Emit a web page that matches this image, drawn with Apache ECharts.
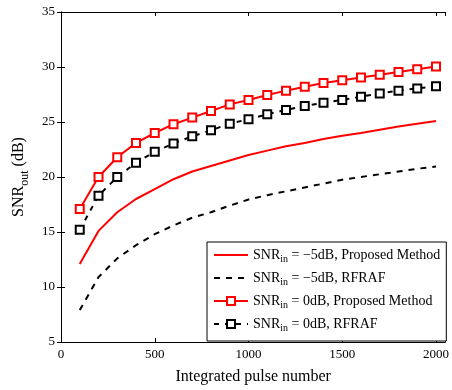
<!DOCTYPE html>
<html>
<head>
<meta charset="utf-8">
<script src="https://cdn.jsdelivr.net/npm/echarts@6/dist/echarts.min.js"></script>
<style>
html,body{margin:0;padding:0;background:#fff;}
#chart{width:452px;height:390px;}
</style>
</head>
<body>
<div id="chart"></div>
<script>
// Integrated pulse numbers (x)
var pulses = [100, 200, 300, 400, 500, 600, 700, 800, 900, 1000, 1100, 1200, 1300, 1400, 1500, 1600, 1700, 1800, 1900, 2000];
// SNR_in = -5dB, Proposed Method
var propM5 = [12.1, 15.1, 16.8, 18.0, 18.9, 19.8, 20.5, 21.0, 21.5, 22.0, 22.4, 22.8, 23.1, 23.45, 23.75, 24.0, 24.3, 24.6, 24.85, 25.1];
// SNR_in = -5dB, RFRAF
var rfrafM5 = [7.9, 10.9, 12.6, 13.8, 14.8, 15.6, 16.3, 16.8, 17.4, 17.95, 18.35, 18.7, 19.05, 19.4, 19.75, 20.0, 20.25, 20.5, 20.75, 20.95];
// SNR_in = 0dB, Proposed Method
var prop0 = [17.1, 20.0, 21.8, 23.1, 24.0, 24.8, 25.4, 26.0, 26.6, 27.0, 27.45, 27.85, 28.2, 28.55, 28.8, 29.05, 29.3, 29.55, 29.8, 30.05];
// SNR_in = 0dB, RFRAF
var rfraf0 = [15.2, 18.3, 20.0, 21.3, 22.3, 23.05, 23.7, 24.25, 24.85, 25.25, 25.7, 26.1, 26.45, 26.75, 27.0, 27.3, 27.6, 27.85, 28.05, 28.25];

var seriesNames = ['s1', 's2', 's3', 's4'];
var legendSuffix = [' = \u22125dB, Proposed Method', ' = \u22125dB, RFRAF', ' = 0dB, Proposed Method', ' = 0dB, RFRAF'];
var xTicks = [0, 500, 1000, 1500, 2000];
var yTicks = [5, 10, 15, 20, 25, 30, 35];

function pairs(ys) {
  return pulses.map(function (x, i) { return [x, ys[i]]; });
}

var FONT = 'Liberation Serif';
var chart = echarts.init(document.getElementById('chart'), null, {renderer: 'canvas'});

var axisLineStyle = {lineStyle: {color: '#000', width: 1}};
var tickStyle = {inside: true, length: 4, lineStyle: {color: '#000', width: 1}};

var option = {
  animation: false,
  backgroundColor: '#fff',
  grid: {left: 61, top: 12, right: 2, bottom: 43, containLabel: false},
  xAxis: [{
    type: 'value', min: 0, max: 2050, interval: 500,
    position: 'bottom',
    axisLine: axisLineStyle, axisTick: tickStyle, splitLine: {show: false},
    axisLabel: {
      color: '#000', fontFamily: FONT, fontSize: 13, margin: 6,
      formatter: function (v) { return xTicks.indexOf(v) >= 0 ? String(v) : ''; }
    },
    name: 'Integrated pulse number', nameLocation: 'middle', nameGap: 27,
    nameTextStyle: {color: '#000', fontFamily: FONT, fontSize: 16}
  }, {
    type: 'value', min: 0, max: 2050, interval: 500,
    position: 'top',
    axisLine: axisLineStyle, axisTick: tickStyle, splitLine: {show: false},
    axisLabel: {show: false}
  }],
  yAxis: [{
    type: 'value', min: 5, max: 35, interval: 5,
    position: 'left',
    axisLine: axisLineStyle, axisTick: tickStyle, splitLine: {show: false},
    axisLabel: {
      color: '#000', fontFamily: FONT, fontSize: 13, margin: 6,
      formatter: function (v) { return yTicks.indexOf(v) >= 0 ? String(v) : ''; }
    },
    name: '{a|SNR}{b|out}{a| (dB)}', nameLocation: 'middle', nameGap: 30, nameRotate: 90,
    nameTextStyle: {
      color: '#000', fontFamily: FONT,
      rich: {
        a: {fontFamily: FONT, fontSize: 16, color: '#000', lineHeight: 24, verticalAlign: 'middle'},
        b: {fontFamily: FONT, fontSize: 12, color: '#000', lineHeight: 24, verticalAlign: 'bottom'}
      }
    }
  }, {
    type: 'value', min: 5, max: 35, interval: 5,
    position: 'right',
    axisLine: axisLineStyle, axisTick: tickStyle, splitLine: {show: false},
    axisLabel: {show: false}
  }],
  legend: {
    orient: 'vertical',
    left: 207, top: 242,
    backgroundColor: '#fff',
    borderColor: '#000', borderWidth: 1, borderRadius: 0,
    padding: [6, 6, 8, 6],
    itemWidth: 34, itemHeight: 10, itemGap: 7,
    data: [
      {name: 's1', itemStyle: {opacity: 0}},
      {name: 's2', itemStyle: {opacity: 0}},
      {name: 's3'},
      {name: 's4'}
    ],
    formatter: function (name) {
      var i = seriesNames.indexOf(name);
      return '{a|SNR}{b|in}{a|' + legendSuffix[i] + '}';
    },
    textStyle: {
      color: '#000', fontFamily: FONT, fontSize: 14,
      rich: {
        a: {fontFamily: FONT, fontSize: 14, color: '#000', lineHeight: 18, verticalAlign: 'middle'},
        b: {fontFamily: FONT, fontSize: 10, color: '#000', lineHeight: 18, verticalAlign: 'bottom'}
      }
    }
  },
  series: [{
    name: 's1', type: 'line', data: pairs(propM5),
    showSymbol: false, symbol: 'none',
    lineStyle: {color: '#ff0000', width: 2},
    itemStyle: {color: '#ff0000'}
  }, {
    name: 's2', type: 'line', data: pairs(rfrafM5),
    showSymbol: false, symbol: 'none',
    lineStyle: {color: '#000', width: 2, type: [6, 6]},
    itemStyle: {color: '#000'}
  }, {
    name: 's3', type: 'line', data: pairs(prop0),
    symbol: 'emptyRect', symbolSize: 8, showAllSymbol: true,
    lineStyle: {color: '#ff0000', width: 2},
    itemStyle: {color: '#ff0000', borderColor: '#ff0000', borderWidth: 2}
  }, {
    name: 's4', type: 'line', data: pairs(rfraf0),
    symbol: 'emptyRect', symbolSize: 8, showAllSymbol: true,
    lineStyle: {color: '#000', width: 2, type: [5, 6]},
    itemStyle: {color: '#000', borderColor: '#000', borderWidth: 2}
  }]
};
chart.setOption(option);
</script>
</body>
</html>
